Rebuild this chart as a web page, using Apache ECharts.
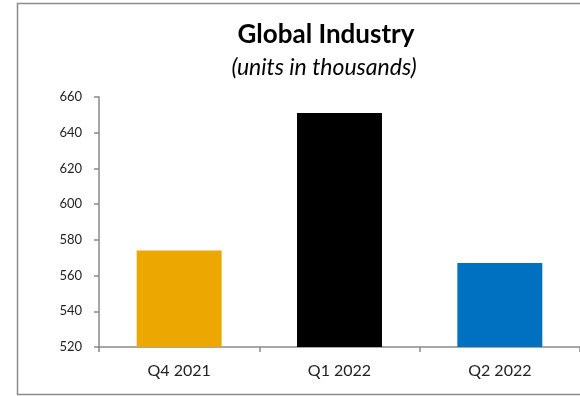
<!DOCTYPE html>
<html><head><meta charset="utf-8">
<script src="https://cdn.jsdelivr.net/npm/echarts@6/dist/echarts.min.js"></script>
<style>html,body{margin:0;padding:0;background:#fff}#c{width:580px;height:396px}</style>
</head><body><div id="c"></div>
<script>
const categories = ['Q4 2021', 'Q1 2022', 'Q2 2022'];
const values = [574, 651, 567];
const barColors = ['#EDA800', '#000000', '#0070C0'];
const yTicks = { min: 520, max: 660, interval: 20 };

const chart = echarts.init(document.getElementById('c'), null, { renderer: 'canvas' });
chart.setOption({
  animation: false,
  backgroundColor: '#fff',
  title: [
    { text: 'Global Industry', left: 321, top: 17, textAlign: 'center',
      textStyle: { fontFamily: 'Lato', fontWeight: 'bold', fontSize: 26, color: '#000' } },
    { text: '(units in thousands)', left: 319, top: 51, textAlign: 'center',
      textStyle: { fontFamily: 'Lato', fontStyle: 'italic', fontWeight: 'normal', fontSize: 23, color: '#000' } }
  ],
  graphic: [{ type: 'rect', shape: { x: 17.5, y: 3.5, width: 700, height: 391 },
    style: { fill: 'none', stroke: '#8c8c8c', lineWidth: 1.5 }, silent: true, z: -1 }],
  grid: { left: 99, right: -3, top: 97, bottom: 49, containLabel: false },
  xAxis: {
    type: 'category', data: categories,
    axisLine: { lineStyle: { color: '#898989', width: 1.5 } },
    axisTick: { show: true, length: 5, lineStyle: { color: '#898989', width: 1.5 } },
    axisLabel: { fontFamily: 'Lato', fontSize: 16, color: '#222', margin: 16 }
  },
  yAxis: {
    type: 'value', min: yTicks.min, max: yTicks.max, interval: yTicks.interval,
    splitLine: { show: false },
    axisLine: { show: true, lineStyle: { color: '#898989', width: 1.5 } },
    axisTick: { show: true, length: 5, lineStyle: { color: '#898989', width: 1.5 } },
    axisLabel: { fontFamily: 'Lato', fontSize: 13, color: '#222', margin: 17 }
  },
  series: [{
    type: 'bar', barWidth: '53%',
    data: values.map((v, i) => ({ value: v, itemStyle: { color: barColors[i] } }))
  }]
});
</script></body></html>
